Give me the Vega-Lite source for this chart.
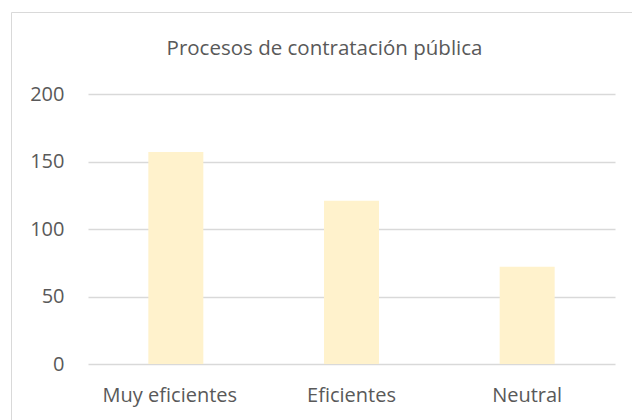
{
  "$schema": "https://vega.github.io/schema/vega-lite/v6.json",
  "width": 527,
  "height": 270,
  "autosize": {"type": "none"},
  "padding": {"left": 88, "top": 94, "right": 17, "bottom": 56},
  "background": "white",
  "title": {
    "text": "Procesos de contratación pública",
    "font": "Open Sans",
    "fontSize": 20.5,
    "fontWeight": "normal",
    "color": "#595959",
    "anchor": "middle",
    "frame": "group",
    "dx": -27,
    "offset": -48
  },
  "data": {
    "values": [
      {"categoria": "Muy eficientes", "valor": 157},
      {"categoria": "Eficientes", "valor": 121},
      {"categoria": "Neutral", "valor": 72}
    ]
  },
  "mark": {"type": "bar"},
  "encoding": {
    "x": {
      "field": "categoria",
      "type": "nominal",
      "sort": null,
      "scale": {"paddingInner": 0.687, "paddingOuter": 0.3435},
      "axis": {
        "title": null,
        "labelAngle": 0,
        "domain": false,
        "ticks": false,
        "labelPadding": 21,
        "labelOffset": {"condition": {"test": "datum.value === 'Muy eficientes'", "value": -6}, "value": 0},
        "labelFont": "Open Sans",
        "labelFontSize": 20,
        "labelColor": "#595959"
      }
    },
    "y": {
      "field": "valor",
      "type": "quantitative",
      "scale": {"domain": [0, 200]},
      "axis": {
        "title": null,
        "values": [0, 50, 100, 150, 200],
        "domain": false,
        "ticks": false,
        "labelPadding": 24,
        "labelFont": "Open Sans",
        "labelFontSize": 20,
        "labelColor": "#595959",
        "gridColor": "#D9D9D9",
        "gridWidth": 1.3
      }
    },
    "color": {
      "datum": "serie",
      "scale": {"range": ["#FFF2CC"]},
      "legend": {
        "orient": "none",
        "legendX": -77,
        "legendY": -82,
        "title": null,
        "padding": 330,
        "strokeColor": "#D9D9D9",
        "labelOpacity": 0,
        "symbolOpacity": 0,
        "symbolSize": 1,
        "labelFontSize": 1
      }
    }
  },
  "config": {"view": {"stroke": null}}
}
